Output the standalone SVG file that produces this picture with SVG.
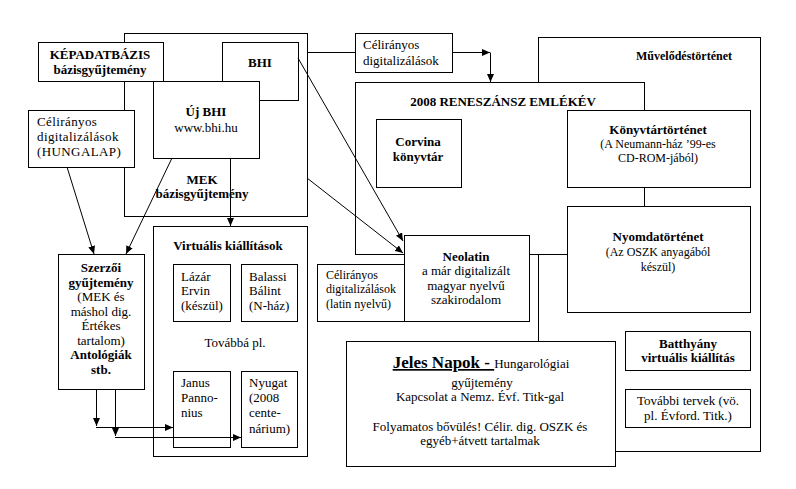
<svg xmlns="http://www.w3.org/2000/svg" width="796" height="489" viewBox="0 0 796 489">
<style>
rect{fill:#fff;stroke:#000;stroke-width:1}
text{font-family:"Liberation Serif","Times New Roman",serif;font-size:13px;fill:#000}
.b{font-weight:bold}
.c{text-anchor:middle}
.s{font-size:12px}
.con line,.con path{stroke:#000;stroke-width:1;fill:none}
</style>
<defs>
<marker id="ah" markerUnits="userSpaceOnUse" markerWidth="8" markerHeight="7" refX="8" refY="3.5" orient="auto">
<path d="M0,0 L8,3.5 L0,7 z" fill="#000"/>
</marker>
</defs>
<rect x="0" y="0" width="796" height="489" style="stroke:none"/>

<g id="mek">
<rect x="124.5" y="33.5" width="183" height="183"/>
<text class="b c" x="202" y="184">MEK</text>
<text class="b c" x="202" y="198">bázisgyűjtemény</text>
</g>
<g id="kepadatbazis">
<rect x="38.5" y="42.5" width="125" height="39"/>
<text class="b c" x="100" y="59">KÉPADATBÁZIS</text>
<text class="b c" x="100" y="74">bázisgyűjtemény</text>
</g>
<g id="bhi">
<rect x="222.5" y="42.5" width="76" height="58"/>
<text class="b c" x="260" y="67">BHI</text>
</g>
<g id="ujbhi">
<rect x="153.5" y="81.5" width="106" height="77"/>
<text class="b c" x="206" y="116">Új BHI</text>
<text class="c" x="206" y="132">www.bhi.hu</text>
</g>
<g id="hungalap">
<rect x="28.5" y="110.5" width="106" height="57"/>
<text x="37" y="126" style="letter-spacing:0.4px">Célirányos</text>
<text x="37" y="141" style="letter-spacing:0.4px">digitalizálások</text>
<text x="37" y="156" style="letter-spacing:0.4px">(HUNGALAP)</text>
</g>
<g id="celiranyos-top">
<rect x="355.5" y="33.5" width="97" height="39"/>
<text x="363" y="49">Célirányos</text>
<text x="363" y="65">digitalizálások</text>
</g>
<g id="muvelodestortenet">
<rect x="538.5" y="37.5" width="222" height="414"/>
<text class="b c s" x="684" y="60">Művelődéstörténet</text>
</g>
<g id="reneszansz">
<rect x="355.5" y="82.5" width="289" height="172"/>
<text class="b c" x="503" y="106">2008 RENESZÁNSZ EMLÉKÉV</text>
</g>
<g id="corvina">
<rect x="376.5" y="119.5" width="85" height="68"/>
<text class="b c" x="418" y="146">Corvina</text>
<text class="b c" x="418" y="161">könyvtár</text>
</g>
<g id="konyvtartortenet">
<rect x="567.5" y="110.5" width="183" height="77"/>
<text class="b c" x="658" y="134">Könyvtártörténet</text>
<text class="c s" x="658" y="148">(A Neumann-ház ’99-es</text>
<text class="c s" x="658" y="162">CD-ROM-jából)</text>
</g>
<g id="nyomdatortenet">
<rect x="567.5" y="206.5" width="183" height="106"/>
<text class="b c" x="658" y="241">Nyomdatörténet</text>
<text class="c s" x="658" y="256">(Az OSZK anyagából</text>
<text class="c s" x="658" y="271">készül)</text>
</g>
<g id="celiranyos-latin">
<rect x="317.5" y="264.5" width="87" height="57"/>
<text class="s" x="326" y="279">Célirányos</text>
<text class="s" x="326" y="293">digitalizálások</text>
<text class="s" x="326" y="308">(latin nyelvű)</text>
</g>
<g id="neolatin">
<rect x="404.5" y="235.5" width="125" height="86"/>
<text class="b c" x="466" y="261">Neolatin</text>
<text class="c" x="466" y="275">a már digitalizált</text>
<text class="c" x="466" y="290">magyar nyelvű</text>
<text class="c" x="466" y="304">szakirodalom</text>
</g>
<g id="jelesnapok">
<rect x="346.5" y="341.5" width="269" height="125"/>
<text class="c" x="481" y="368"><tspan class="b" style="font-size:17px" text-decoration="underline">Jeles Napok - </tspan>Hungarológiai</text>
<text class="c" x="482" y="387">gyűjtemény</text>
<text class="c" x="480" y="401">Kapcsolat a Nemz. Évf. Titk-gal</text>
<text class="c" x="480" y="431">Folyamatos bővülés! Célir. dig. OSZK és</text>
<text class="c" x="480" y="445">egyéb+átvett tartalmak</text>
</g>
<g id="batthyany">
<rect x="625.5" y="331.5" width="125" height="39"/>
<text class="b c" x="688" y="348">Batthyány</text>
<text class="b c" x="688" y="362">virtuális kiállítás</text>
</g>
<g id="tovabbi-tervek">
<rect x="625.5" y="389.5" width="125" height="38"/>
<text class="c" x="688" y="405">További tervek (vö.</text>
<text class="c" x="688" y="420">pl. Évford. Titk.)</text>
</g>
<g id="szerzoi">
<rect x="58.5" y="254.5" width="86" height="135"/>
<text class="b c" x="101" y="272">Szerzői</text>
<text class="b c" x="101" y="287">gyűjtemény</text>
<text class="c" x="101" y="301">(MEK és</text>
<text class="c" x="101" y="316">máshol dig.</text>
<text class="c" x="101" y="330">Értékes</text>
<text class="c" x="101" y="345">tartalom)</text>
<text class="b c" x="101" y="359">Antológiák</text>
<text class="b c" x="101" y="374">stb.</text>
</g>
<g id="virtualis">
<rect x="153.5" y="226.5" width="154" height="230"/>
<text class="b c" x="228" y="250">Virtuális  kiállítások</text>
<text class="c" x="235" y="347">Továbbá pl.</text>
</g>
<g id="lazar">
<rect x="173.5" y="264.5" width="57" height="57"/>
<text x="181" y="281">Lázár</text>
<text x="181" y="295">Ervin</text>
<text x="181" y="310">(készül)</text>
</g>
<g id="balassi">
<rect x="241.5" y="264.5" width="56" height="57"/>
<text x="249" y="281">Balassi</text>
<text x="249" y="295">Bálint</text>
<text x="249" y="310">(N-ház)</text>
</g>
<g id="janus">
<rect x="173.5" y="371.5" width="57" height="76"/>
<text x="181" y="387">Janus</text>
<text x="181" y="402">Panno-</text>
<text x="181" y="417">nius</text>
</g>
<g id="nyugat">
<rect x="241.5" y="371.5" width="56" height="76"/>
<text x="249" y="387">Nyugat</text>
<text x="249" y="402">(2008</text>
<text x="249" y="417">cente-</text>
<text x="249" y="433">nárium)</text>
</g>

<g id="connectors" class="con">
<line x1="307" y1="52.5" x2="355" y2="52.5"/>
<line x1="453" y1="52.5" x2="490" y2="52.5" marker-end="url(#ah)"/>
<line x1="490.5" y1="52.5" x2="490.5" y2="82" marker-end="url(#ah)"/>
<line x1="298" y1="58" x2="403" y2="241" marker-end="url(#ah)"/>
<line x1="307" y1="178" x2="403" y2="253" marker-end="url(#ah)"/>
<line x1="230.5" y1="158" x2="230.5" y2="226" marker-end="url(#ah)"/>
<line x1="67" y1="167" x2="94" y2="254" marker-end="url(#ah)"/>
<line x1="172" y1="158" x2="126" y2="254" marker-end="url(#ah)"/>
<line x1="96.5" y1="389" x2="96.5" y2="426" marker-end="url(#ah)"/>
<line x1="96" y1="427.5" x2="173" y2="427.5" marker-end="url(#ah)"/>
<line x1="115.5" y1="389" x2="115.5" y2="436" marker-end="url(#ah)"/>
<line x1="115" y1="437.5" x2="241" y2="437.5" marker-end="url(#ah)"/>
</g>
</svg>
